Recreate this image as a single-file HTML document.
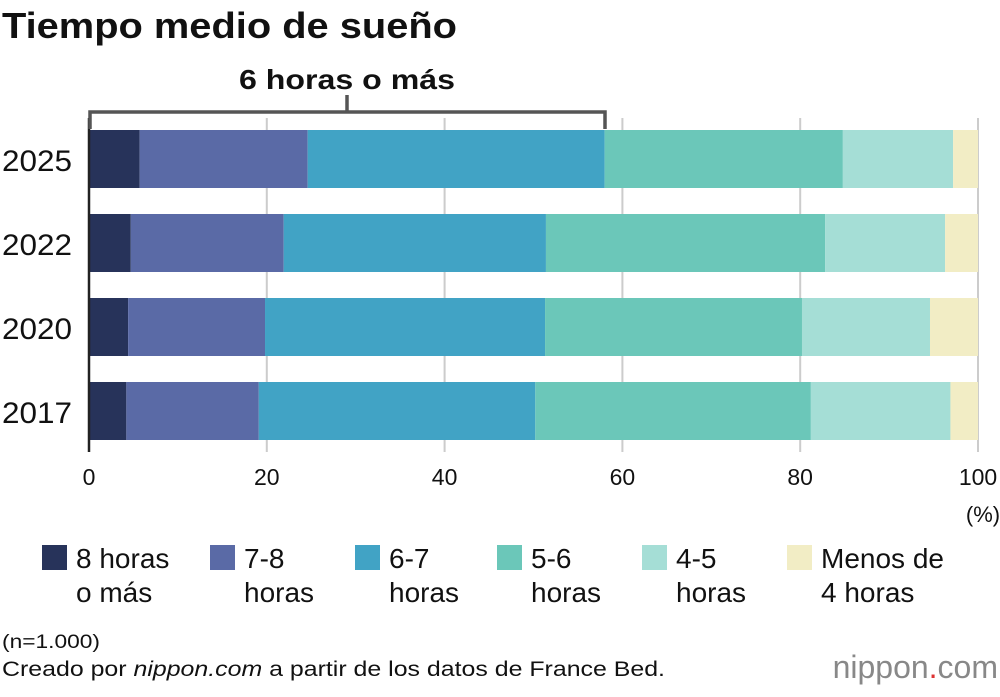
<!DOCTYPE html>
<html><head><meta charset="utf-8"><style>
body{margin:0;background:#fff;font-family:"Liberation Sans",Arial,sans-serif;}
svg text{font-family:"Liberation Sans",Arial,sans-serif;}
</style></head><body>
<svg id="c" width="1000" height="692" viewBox="0 0 1000 692" xmlns="http://www.w3.org/2000/svg">
<text x="2" y="38" font-size="36" font-weight="bold" fill="#111" textLength="455" lengthAdjust="spacingAndGlyphs">Tiempo medio de sueño</text>
<g id="grid"></g><g id="bars"></g><g id="ticks"></g>
<g stroke="#555" stroke-width="3.5" fill="none">
<polyline points="90,129 90,112 605,112 605,129"/><line x1="347" y1="112" x2="347" y2="95"/></g>
<text x="239" y="89" font-size="28" font-weight="bold" fill="#111" textLength="216" lengthAdjust="spacingAndGlyphs">6 horas o más</text>
<text x="983" y="522" font-size="22" text-anchor="middle" fill="#111">(%)</text>
<g id="legend"></g>
<text x="2" y="648" font-size="19" fill="#111" textLength="98" lengthAdjust="spacingAndGlyphs">(n=1.000)</text>
<text x="2" y="676" font-size="21" fill="#111" textLength="663" lengthAdjust="spacingAndGlyphs">Creado por <tspan font-style="italic">nippon.com</tspan> a partir de los datos de France Bed.</text>
<text x="998" y="678" font-size="32" text-anchor="end" fill="#888">nippon<tspan fill="#d33">.</tspan>com</text>
</svg>
<script>
const years=["2025","2022","2020","2017"];
const cats=["8 horas|o más","7-8|horas","6-7|horas","5-6|horas","4-5|horas","Menos de|4 horas"];
const s8=[5.7,4.7,4.4,4.2];
const s78=[18.9,17.2,15.4,14.9];
const s67=[33.4,29.5,31.5,31.1];
const s56=[26.8,31.4,28.9,31.0];
const s45=[12.4,13.5,14.4,15.7];
const s4=[2.8,3.7,5.4,3.1];
const tickVals=[0,20,40,60,80,100];
const series=[s8,s78,s67,s56,s45,s4];
const colors=["#27335a","#5a6aa6","#41a3c5","#6bc7b9","#a5ded6","#f2edc5"];
const NS="http://www.w3.org/2000/svg";
const x0=89,x1=978;
const xs=v=>x0+(x1-x0)*v/100;
const yTop=i=>130+i*84,bh=58;
function mk(t,a,p){const e=document.createElementNS(NS,t);for(const k in a)e.setAttribute(k,a[k]);p.appendChild(e);return e;}
const grid=document.getElementById('grid'),bars=document.getElementById('bars'),ticks=document.getElementById('ticks'),leg=document.getElementById('legend');
tickVals.forEach(v=>{
 if(v>0){const l=mk('line',{x1:xs(v),x2:xs(v),y1:118,y2:452,stroke:'#ccc','stroke-width':2},grid);
 
 }
 const t=mk('text',{x:xs(v),y:485,'font-size':23,'text-anchor':'middle',fill:'#111'},ticks);t.textContent=v;
 
 
});
years.forEach((y,i)=>{
 let acc=0;
 series.forEach((s,j)=>{
  const r=mk('rect',{x:xs(acc),y:yTop(i),width:xs(acc+s[i])-xs(acc),height:bh,fill:colors[j]},bars);
  
  
  acc+=s[i];
 });
 const t=mk('text',{x:2,y:yTop(i)+41,'font-size':30,fill:'#111',textLength:70,lengthAdjust:'spacingAndGlyphs'},bars);t.textContent=y;
 
 
});
const ax=mk('line',{x1:x0,x2:x0,y1:118,y2:452,stroke:'#222','stroke-width':2.5},ticks);


const lx=[42,210,355,497,642,787];
cats.forEach((c,j)=>{
 const g=mk('g',{},leg);
 
 
 mk('rect',{x:lx[j],y:545,width:25,height:25,fill:colors[j]},g);
 c.split('|').forEach((ln,k)=>{const t=mk('text',{x:lx[j]+34,y:568+k*34,'font-size':28,fill:'#111'},g);t.textContent=ln;});
});
</script>
</body></html>
